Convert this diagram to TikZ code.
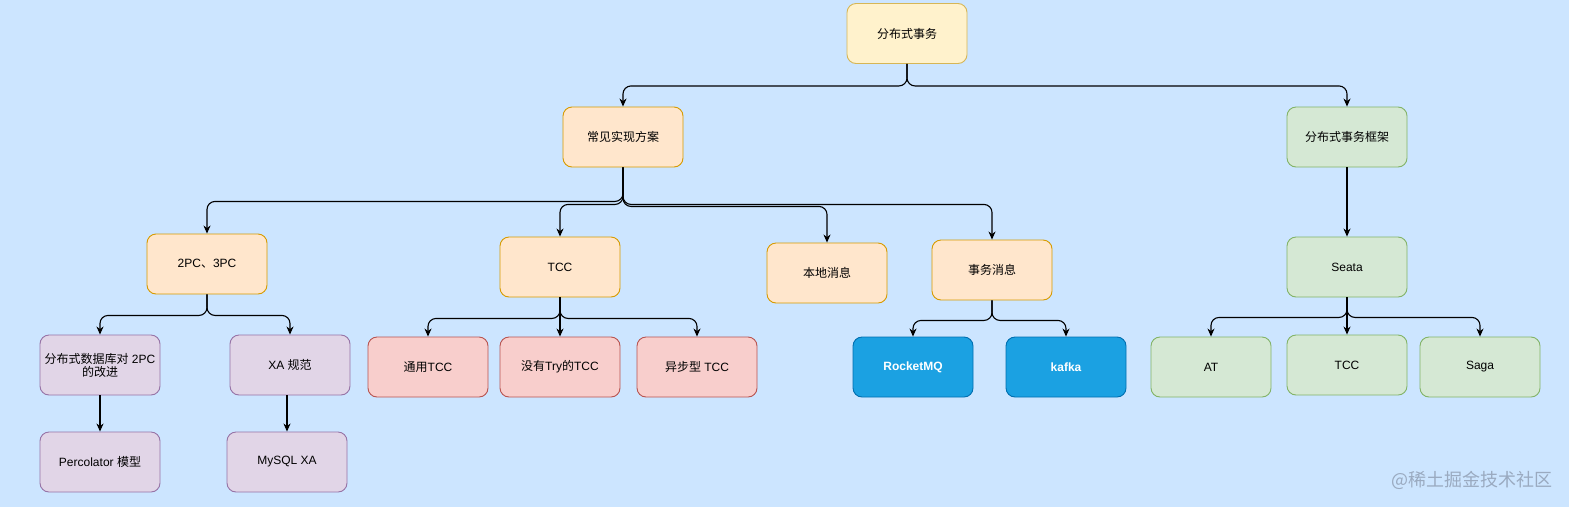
\documentclass[tikz,border=0pt]{standalone}
\usepackage{fontspec}
\setmainfont{Liberation Sans}
\newfontfamily\zh{Noto Sans CJK SC}
\usetikzlibrary{arrows.meta}
\definecolor{bgc}{HTML}{CCE5FF}
\definecolor{yelF}{HTML}{FFF2CC}\definecolor{yelD}{HTML}{D6B656}
\definecolor{orgF}{HTML}{FFE6CC}\definecolor{orgD}{HTML}{D79B00}
\definecolor{grnF}{HTML}{D5E8D4}\definecolor{grnD}{HTML}{82B366}
\definecolor{purF}{HTML}{E1D5E7}\definecolor{purD}{HTML}{9673A6}
\definecolor{redF}{HTML}{F8CECC}\definecolor{redD}{HTML}{B85450}
\definecolor{bluF}{HTML}{1BA1E2}\definecolor{bluD}{HTML}{006EAF}
\definecolor{wmark}{HTML}{9AAAC0}
\tikzset{
  box/.style={rounded corners=9pt, minimum width=120pt, minimum height=60pt, inner sep=2pt,
    align=center, font=\fontsize{12}{14}\selectfont, line width=0.9pt, text=black},
  yelbox/.style={box, fill=yelF, draw=yelD},
  orgbox/.style={box, fill=orgF, draw=orgD},
  grnbox/.style={box, fill=grnF, draw=grnD},
  purbox/.style={box, fill=purF, draw=purD},
  redbox/.style={box, fill=redF, draw=redD},
  blubox/.style={box, fill=bluF, draw=bluD, text=white, font=\fontsize{12}{14}\selectfont\bfseries},
  edge/.style={draw=black, line width=1.1pt, rounded corners=8pt, -{Stealth[length=8pt,width=7pt,inset=2.5pt]}}
}
\begin{document}
\begin{tikzpicture}[x=1pt,y=-1pt]
\useasboundingbox (0,0) rectangle (1569,507);
\fill[bgc] (0,0) rectangle (1569,507);

\node[yelbox] (root) at (907,33.5) {\zh 分布式事务};
\node[orgbox] (impl) at (623,137) {\zh 常见实现方案};
\node[grnbox] (frame) at (1347,137) {\zh 分布式事务框架};

\node[orgbox] (pc) at (207,264) {2PC{\zh 、}3PC};
\node[orgbox] (tcc) at (560,267) {TCC};
\node[orgbox] (local) at (827,273) {\zh 本地消息};
\node[orgbox] (txmsg) at (992,270) {\zh 事务消息};
\node[grnbox] (seata) at (1347,267) {Seata};

\node[purbox] (dist) at (100,365) {{\zh 分布式数据库对} 2PC\\[-1pt]{\zh 的改进}};
\node[purbox] (xa) at (290,365) {XA {\zh 规范}};
\node[purbox] (perc) at (100,462) {Percolator {\zh 模型}};
\node[purbox] (mysql) at (287,462) {MySQL XA};

\node[redbox] (gtcc) at (428,367) {{\zh 通用}TCC};
\node[redbox] (notry) at (560,367) {{\zh 没有}Try{\zh 的}TCC};
\node[redbox] (async) at (697,367) {{\zh 异步型} TCC};

\node[blubox] (rmq) at (913,367) {RocketMQ};
\node[blubox] (kafka) at (1066,367) {kafka};

\node[grnbox] (at) at (1211,367) {AT};
\node[grnbox] (gtcc2) at (1347,365) {TCC};
\node[grnbox] (saga) at (1480,367) {Saga};

\node[text=wmark, font=\zh\fontsize{18}{20}\selectfont, anchor=east, inner sep=0pt] (wm) at (1553,480) {@稀土掘金技术社区};

\draw[edge] (root.south) -- ++(0,22) -| (impl.north);
\draw[edge] (root.south) -- ++(0,22) -| (frame.north);

\draw[edge] (impl.south) -- ++(0,34) -| (pc.north);
\draw[edge] (impl.south) -- ++(0,37) -| (tcc.north);
\draw[edge] (impl.south) -- ++(0,39) -| (local.north);
\draw[edge] (impl.south) -- ++(0,37) -| (txmsg.north);
\draw[edge] (frame.south) -- (seata.north);

\draw[edge] (pc.south) -- ++(0,21) -| (dist.north);
\draw[edge] (pc.south) -- ++(0,21) -| (xa.north);
\draw[edge] (dist.south) -- (perc.north);
\draw[edge] (xa.south -| mysql.north) -- (mysql.north);

\draw[edge] (tcc.south) -- ++(0,21) -| (gtcc.north);
\draw[edge] (tcc.south) -- (notry.north);
\draw[edge] (tcc.south) -- ++(0,21) -| (async.north);

\draw[edge] (txmsg.south) -- ++(0,20) -| (rmq.north);
\draw[edge] (txmsg.south) -- ++(0,20) -| (kafka.north);

\draw[edge] (seata.south) -- ++(0,20) -| (at.north);
\draw[edge] (seata.south) -- (gtcc2.north);
\draw[edge] (seata.south) -- ++(0,20) -| (saga.north);
\end{tikzpicture}
\end{document}
